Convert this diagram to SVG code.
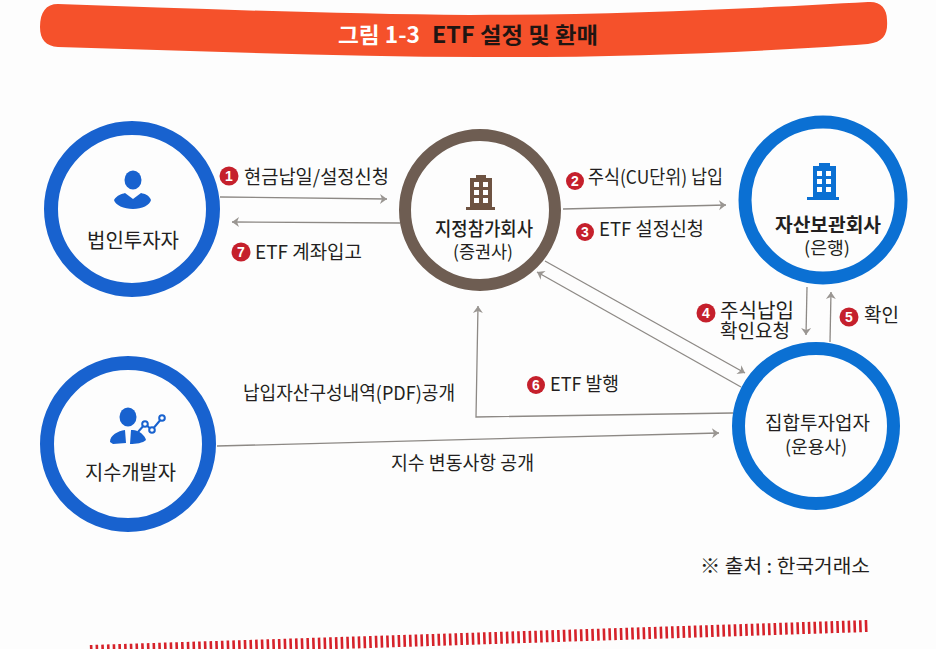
<svg xmlns="http://www.w3.org/2000/svg" width="936" height="649" viewBox="0 0 936 649">
<style>
text{font-family:"Noto Sans CJK KR","Noto Sans",sans-serif;fill:#231f20;font-size:19px;letter-spacing:0}
.t{font-weight:700;font-size:22px}
.m{font-weight:500}
.h{font-size:20px}
.b{font-weight:700}
.s{font-size:17.5px}
.n{font-family:"Liberation Sans",sans-serif;font-weight:700;font-size:14px;fill:#fff;text-anchor:middle}
.badge{fill:#c5202c}
.blue{fill:none;stroke:#1862cf;stroke-width:14}
.sky{fill:none;stroke:#0b70d3;stroke-width:13}
.brown{fill:none;stroke:#6e5d52;stroke-width:12}
.cn{fill:none;stroke:#8d8985;stroke-width:1.3}
.ink{fill:#1862cf}
</style>
<defs>
<marker id="ah" markerUnits="userSpaceOnUse" markerWidth="10" markerHeight="12" refX="8" refY="6" orient="auto">
<path d="M1 1 L8 6 L1 11 L3 6Z" fill="#9a9692"/>
</marker>
</defs>
<rect width="936" height="649" fill="#fdfdfd"/>
<path d="M58 4 C200 9 340 14 470 15 C620 15 760 8 868 2 C880 1 887 8 887 20 C888 34 884 42 868 44 C760 52 620 58 480 57 C340 57 200 51 58 47 C46 46 40 40 40 27 C40 12 46 4 58 4Z" fill="#f5512b"/>
<text x="338" y="43" class="t" style="fill:#fff" textLength="82" lengthAdjust="spacingAndGlyphs">그림 1-3</text>
<text x="432" y="43" class="t" style="fill:#1f1512" textLength="166" lengthAdjust="spacingAndGlyphs">ETF 설정 및 환매</text>
<path d="M90 651 L868 626" fill="none" stroke="#d6222a" stroke-width="12" stroke-dasharray="2.6 3.1"/>

<g id="connectors">
<path class="cn" d="M220 197 L387 199" marker-end="url(#ah)"/>
<path class="cn" d="M400 223 L232 222" marker-end="url(#ah)"/>
<path class="cn" d="M563 209 L726 205" marker-end="url(#ah)"/>
<path class="cn" d="M545 261 L745 373" marker-end="url(#ah)"/>
<path class="cn" d="M741 387 L537 272" marker-end="url(#ah)"/>
<path class="cn" d="M807 287 L806 335" marker-end="url(#ah)"/>
<path class="cn" d="M830 342 L831 292" marker-end="url(#ah)"/>
<path class="cn" d="M733 413 L476 417 L478 306" marker-end="url(#ah)"/>
<path class="cn" d="M217 446 L719 433" marker-end="url(#ah)"/>
</g>

<g id="node-investor">
<circle class="blue" cx="132" cy="209" r="81"/>
<ellipse class="ink" cx="133" cy="180" rx="8.5" ry="9.5"/>
<path class="ink" d="M114 200 C117 195 122 194 125 193 L133 199 L141 193 C145 194 149 195 151 200 C150 205 142 209 133 209 C124 209 115 205 114 200Z"/>
<text x="87" y="248" class="h" textLength="92" lengthAdjust="spacingAndGlyphs">법인투자자</text>
</g>

<g id="node-ap">
<circle class="brown" cx="480" cy="210" r="75"/>
<path d="M470 178 L476 178 L476 175 L486 175 L486 178 L492 178 L492 207 L495 207 L495 210 L466 210 L466 207 L470 207Z" fill="#6e5342"/>
<g fill="#fff">
<rect x="474" y="182" width="5" height="5"/><rect x="483" y="182" width="5" height="5"/>
<rect x="474" y="190" width="5" height="5"/><rect x="483" y="190" width="5" height="5"/>
<rect x="474" y="198" width="5" height="5"/><rect x="483" y="198" width="5" height="5"/>
</g>
<text x="435" y="236" class="m" textLength="98" lengthAdjust="spacingAndGlyphs">지정참가회사</text>
<text x="453" y="258" class="s" textLength="60" lengthAdjust="spacingAndGlyphs">(증권사)</text>
</g>

<g id="node-custodian">
<circle class="sky" cx="823" cy="200" r="78"/>
<path d="M813 166 L819 166 L819 163 L830 163 L830 166 L836 166 L836 197 L839 197 L839 200 L807 200 L807 197 L813 197Z" fill="#0b70d3"/>
<g fill="#fff">
<rect x="817" y="171" width="5" height="5"/><rect x="826" y="171" width="5" height="5"/>
<rect x="817" y="179" width="5" height="5"/><rect x="826" y="179" width="5" height="5"/>
<rect x="817" y="187" width="5" height="5"/><rect x="826" y="187" width="5" height="5"/>
</g>
<text x="775" y="232" class="b" textLength="106" lengthAdjust="spacingAndGlyphs">자산보관회사</text>
<text x="804" y="254" class="s" textLength="46" lengthAdjust="spacingAndGlyphs">(은행)</text>
</g>

<g id="node-index">
<circle class="blue" cx="128" cy="444" r="81"/>
<ellipse class="ink" cx="128" cy="417" rx="8.5" ry="9.5"/>
<path class="ink" d="M110 442 C110 435 118 431 125 430 L126 443 L113 444Z M130 444 L131 430 C138 429 145 435 146 440 C143 443 136 444 130 444Z"/>
<path d="M138 432 L145 424 L152 430 L162 418" fill="none" stroke="#1862cf" stroke-width="2"/>
<g fill="#fff" stroke="#1862cf" stroke-width="2">
<circle cx="145" cy="424" r="2.8"/><circle cx="152" cy="430" r="2.8"/><circle cx="162" cy="418" r="2.8"/>
</g>
<text x="85" y="480" class="h" textLength="91" lengthAdjust="spacingAndGlyphs">지수개발자</text>
</g>

<g id="node-manager">
<circle class="sky" cx="816" cy="426" r="77.5"/>
<text x="765" y="430" textLength="105" lengthAdjust="spacingAndGlyphs">집합투자업자</text>
<text x="785" y="453" class="s" textLength="62" lengthAdjust="spacingAndGlyphs">(운용사)</text>
</g>

<g id="labels">
<circle class="badge" cx="229" cy="176" r="9.5"/><text class="n" x="229" y="181">1</text>
<text x="244" y="184" textLength="145" lengthAdjust="spacingAndGlyphs">현금납일/설정신청</text>
<circle class="badge" cx="241" cy="252" r="9.5"/><text class="n" x="241" y="257">7</text>
<text x="255" y="259" textLength="107" lengthAdjust="spacingAndGlyphs">ETF 계좌입고</text>
<circle class="badge" cx="575" cy="181" r="9"/><text class="n" x="575" y="186">2</text>
<text x="588" y="184" textLength="135" lengthAdjust="spacingAndGlyphs">주식(CU단위) 납입</text>
<circle class="badge" cx="585" cy="232" r="9"/><text class="n" x="585" y="237">3</text>
<text x="599" y="236" textLength="105" lengthAdjust="spacingAndGlyphs">ETF 설정신청</text>
<circle class="badge" cx="706" cy="313" r="9.5"/><text class="n" x="706" y="318">4</text>
<text x="720" y="318" class="h" textLength="74" lengthAdjust="spacingAndGlyphs">주식납입</text>
<text x="720" y="338" textLength="70" lengthAdjust="spacingAndGlyphs">확인요청</text>
<circle class="badge" cx="849" cy="317" r="9.5"/><text class="n" x="849" y="322">5</text>
<text x="864" y="322" textLength="35" lengthAdjust="spacingAndGlyphs">확인</text>
<circle class="badge" cx="536" cy="385" r="9"/><text class="n" x="536" y="390">6</text>
<text x="550" y="391" textLength="69" lengthAdjust="spacingAndGlyphs">ETF 발행</text>
<text x="243" y="400" textLength="212" lengthAdjust="spacingAndGlyphs">납입자산구성내역(PDF)공개</text>
<text x="391" y="470" textLength="143" lengthAdjust="spacingAndGlyphs">지수 변동사항 공개</text>
<text x="700" y="573" textLength="170" lengthAdjust="spacingAndGlyphs">※ 출처 : 한국거래소</text>
</g>
</svg>
